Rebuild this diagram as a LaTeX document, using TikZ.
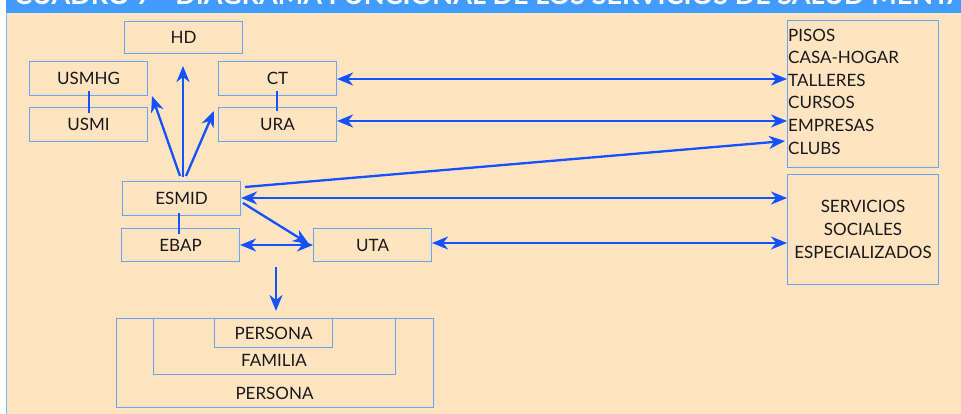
\documentclass[tikz,border=0pt]{standalone}
\usepackage{fontspec}
\setmainfont{Lato}
\usetikzlibrary{arrows.meta}
\definecolor{panelbg}{RGB}{255,228,194}
\definecolor{bandblue}{RGB}{66,156,255}
\definecolor{framecol}{RGB}{108,164,240}
\definecolor{arrowblue}{RGB}{20,82,255}
\definecolor{inkcol}{RGB}{25,25,25}

\begin{document}
\begin{tikzpicture}[x=1pt,y=-1pt,
  box/.style={draw=framecol, line width=1.1pt, inner sep=0pt, anchor=north west,
    font=\fontsize{17}{19}\selectfont, text=inkcol},
  txt/.style={inner sep=0pt, font=\fontsize{17}{19}\selectfont, text=inkcol},
  tie/.style={draw=arrowblue, line width=2pt},
  flow/.style={draw=arrowblue, line width=2.3pt,
    -{Stealth[length=16pt, width=13pt, inset=5pt]}},
  dflow/.style={draw=arrowblue, line width=2.3pt,
    {Stealth[length=16pt, width=13pt, inset=5pt]}-{Stealth[length=16pt, width=13pt, inset=5pt]}}]

\useasboundingbox (0,0) rectangle (961,414);
\fill[white] (0,0) rectangle (961,414);

% header band and panel
\fill[bandblue] (6,0) rectangle (961,13);
\fill[panelbg] (6,13) rectangle (961,414);
\draw[framecol!80, line width=1pt] (6.5,13) -- (6.5,414);
\begin{scope}
  \clip (6,0) rectangle (961,13);
  \node[anchor=base west, inner sep=0pt, text=white,
        font=\fontsize{27}{30}\selectfont\bfseries] (title) at (14,4.5)
        {CUADRO 7 - DIAGRAMA FUNCIONAL DE LOS SERVICIOS DE SALUD MENTAL};
\end{scope}

% units
\node[box, minimum width=118pt, minimum height=32pt] (hd)    at (124,21)  {HD};
\node[box, minimum width=118pt, minimum height=34pt] (usmhg) at (29,61)   {USMHG};
\node[box, minimum width=118pt, minimum height=34pt] (usmi)  at (29,107)  {USMI};
\node[box, minimum width=118pt, minimum height=34pt] (ct)    at (218,61)  {CT};
\node[box, minimum width=118pt, minimum height=34pt] (ura)   at (218,107) {URA};
\node[box, minimum width=118pt, minimum height=34pt] (esmid) at (122,181) {ESMID};
\node[box, minimum width=118pt, minimum height=33pt] (ebap)  at (121,228) {EBAP};
\node[box, minimum width=118pt, minimum height=33pt] (uta)   at (313,228) {UTA};

% resources on the right
\node[box, minimum width=151pt, minimum height=147pt] (recursos) at (787,20) {};
\foreach \t [count=\i] in {PISOS,CASA-HOGAR,TALLERES,CURSOS,EMPRESAS,CLUBS}
  \node[txt, anchor=base west] (item\i) at (788,{41.2+22.6*(\i-1)}) {\t};
\node[box, minimum width=151pt, minimum height=110pt, align=center,
      font=\fontsize{17}{23}\selectfont] (sss) at (787,174)
      {SERVICIOS\\SOCIALES\\ESPECIALIZADOS};

% nested person / family boxes
\node[box, minimum width=317pt, minimum height=89pt] (persout) at (116,318) {};
\node[box, minimum width=242pt, minimum height=56pt] (familia) at (153,318) {};
\node[box, minimum width=118pt, minimum height=29pt] (persin)  at (214,318) {PERSONA};
\node[txt] (familiatxt) at (274,360) {FAMILIA};
\node[txt] (persouttxt) at (274.5,393) {PERSONA};

% short ties between paired units
\draw[tie] (usmhg.south) ++(0,-5) -- ++(0,22);
\draw[tie] (ct.south) ++(-1,-5) -- ++(0,20);
\draw[tie] (esmid.south) ++(-3,-3) -- ++(0,21);

% fan of arrows leaving ESMID upwards
\coordinate (fanA) at (180,176);
\coordinate (fanB) at (183,177);
\coordinate (fanC) at (186,176);
\coordinate (tipL) at (152,96);
\coordinate (tipM) at (183,66);
\coordinate (tipR) at (214,111);
\draw[flow] (fanA) -- (tipL);
\draw[flow] (fanB) -- (tipM);
\draw[flow] (fanC) -- (tipR);

% links to the right-hand boxes
\coordinate (esmidout) at (245,187);
\coordinate (clubsin) at (785,141);
\coordinate (esmidlow) at (243,203);
\coordinate (utain) at (309,244);
\draw[dflow] (ct.east |- 0,79) -- (recursos.west |- 0,79);
\draw[dflow] (ura.east |- 0,121) -- (recursos.west |- 0,121);
\draw[flow] (esmidout) -- (clubsin);
\draw[dflow] (esmid.east |- 0,198) -- (sss.west |- 0,198);
\draw[dflow] (uta.east |- 0,243) -- (sss.west |- 0,243);

% ESMID, EBAP and UTA
\draw[flow] (esmidlow) -- (utain);
\draw[dflow] (ebap.east |- 0,245) -- (uta.west |- 0,245);

% down to the person
\coordinate (downstart) at (276,267);
\coordinate (downtip) at (276,311);
\draw[flow] (downstart) -- (downtip);
\end{tikzpicture}
\end{document}
